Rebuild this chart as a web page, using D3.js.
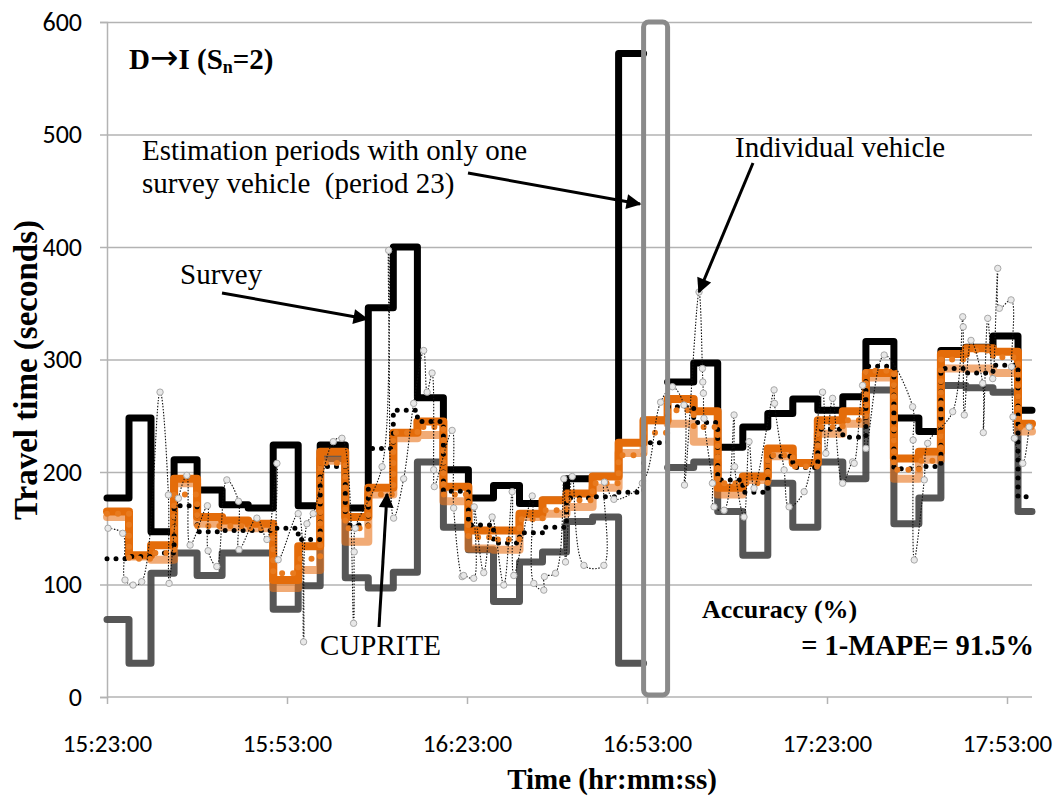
<!DOCTYPE html>
<html><head><meta charset="utf-8">
<script src="https://cdn.jsdelivr.net/npm/d3@7"></script>
<style>body{margin:0;background:#fff}svg{display:block}</style>
</head><body>
<svg id="chart" width="1059" height="800"></svg>
<script>
// ---------------- DATA ----------------
const axisStart = "15:23:00";
const axisEnd = "17:57:10";
const xTickLabels = ["15:23:00","15:53:00","16:23:00","16:53:00","17:23:00","17:53:00"];
const yTickValues = [0,100,200,300,400,500,600];

// estimation period start times (38 periods), last one ends at axisEnd
const periodStarts = ["15:23:00","15:26:40","15:30:20","15:34:11","15:38:01","15:42:11","15:46:32","15:50:42",
  "15:54:52","15:58:32","16:02:43","16:06:33","16:10:43","16:14:44","16:19:04","16:23:14","16:27:25","16:31:45",
  "16:35:35","16:39:35","16:43:56","16:48:16","16:52:26","16:56:26","17:00:47","17:04:47","17:08:58","17:13:08",
  "17:17:18","17:21:28","17:25:38","17:29:29","17:34:09","17:38:19","17:41:59","17:46:10","17:50:40","17:54:50"];

// survey max (black)
const surveyMax = [177,248,147,211,184,171,168,224,170,224,168,346,400,266,202,177,188,172,175,194,196,572,null,
  280,297,222,240,252,265,255,267,316,248,236,308,311,321,255];
// survey min (dark grey)
const surveyMin = [69,30,110,128,108,128,128,78,99,212,106,97,111,209,151,131,85,120,129,156,160,30,null,
  204,209,165,126,190,151,209,194,273,154,177,277,275,271,165];
// survey mean (black round dots)
const surveyMean = [123,125,128,170,147,148,148,150,140,205,153,221,255,245,183,153,137,146,151,177,178,182,226,
  258,244,193,182,214,204,238,231,294,203,205,292,288,295,178];
// CUPRITE estimate (orange)
const cuprite = [165,126,135,194,160,157,154,104,134,218,160,186,235,245,187,148,148,163,175,181,196,226,246,
  265,254,186,196,221,208,246,254,288,212,218,305,310,307,243];
// CUPRITE alternative estimate (light orange)
const cupriteAlt = [160,125,122,190,154,151,150,97,113,210,138,180,230,233,174,132,131,160,163,169,186,217,246,
  243,227,180,193,214,208,234,243,284,194,211,292,292,288,236];
// CUPRITE mean of vehicles (orange round dots)
const cupriteDots = [163,123,128,180,152,152,150,110,123,208,150,180,235,240,180,142,140,158,166,175,190,215,235,
  255,240,190,190,215,205,240,246,290,202,210,300,308,302,240];

// individual vehicles: minutes after axisStart, travel time (s)
const vehicleMin = [0.17,2.62,3.00,4.34,5.79,8.84,10.23,10.35,11.90,13.30,13.85,16.74,16.85,18.30,19.97,21.91,22.0,
  24.98,26.65,28.32,28.53,31.87,32.76,33.32,34.37,37.71,39.16,41.10,41.2,41.38,45.84,46.94,47.77,49.44,51.11,52.78,
  53.35,54.18,54.45,54.55,57.52,57.78,59.19,59.45,61.12,61.2,62.79,64.19,66.13,67.53,67.80,70.87,71.13,72.80,72.9,
  74.75,76.14,76.42,77.54,79.48,82.81,82.9,84.48,89.22,92.27,94.23,96.16,96.25,98.67,99.23,99.3,99.4,99.50,100.90,
  101.17,102.84,104.51,104.6,106.17,107.01,107.84,111.18,111.25,112.85,113.68,116.19,119.26,119.81,120.93,122.59,
  124.26,124.53,125.93,126.48,129.53,134.27,134.35,134.54,136.21,136.78,140.95,142.62,142.7,142.88,144.00,145.95,
  146.05,146.79,147.62,148.46,148.73,150.68,150.75,151.0,151.23,152.63,153.68];
const vehicleTT = [150,145.5,104,99.5,102.5,271,179.6,101,176.6,197,135,170,130,116,193,174,131,159,140,207.7,122,
  163,49,154,163,227,230,65.5,129,150,204.7,397,159,194,261,308,271,288,202,187,237,168,107,108,105.5,169,110.5,160,
  99.5,182.5,108,178.7,101,95,107,110,194,120,196,117,117,191,175.7,190,262,275.8,259.5,188.4,360,292,280,270,247.7,
  190,169,166,250.7,204.7,160,227,185.5,273,261,201.8,169,182.5,271,216.6,265.5,190,209,207.7,277,221,304,258,228.4,
  121.8,193,225.5,253.6,338,329,250.7,317,278.8,235,336.6,283,381,345.5,353,293.6,249,230,207.7,240];

const highlightPeriod = 23;

// ---------------- CHART ----------------
const svg = d3.select("#chart");
const parse = d3.timeParse("%H:%M:%S");
const t0 = parse(axisStart), t1 = parse(axisEnd);
const M = {left:107, right:1032, top:22, bottom:697};
const x = d3.scaleTime().domain([t0,t1]).range([M.left,M.right]);
const y = d3.scaleLinear().domain([0,600]).range([M.bottom,M.top]);

const pStart = periodStarts.map(parse);
const pEnd = pStart.slice(1).concat([t1]);

const serif = "'Liberation Serif','Times New Roman',serif";
const sans = "Carlito,'Liberation Sans',Arial,sans-serif";

// gridlines
svg.append("g").attr("transform",`translate(${M.left},0)`)
  .call(d3.axisLeft(y).tickValues(yTickValues.filter(v=>v>0)).tickSize(-(M.right-M.left)).tickFormat(""))
  .call(g=>g.select(".domain").remove())
  .call(g=>g.selectAll("line").attr("stroke","#b3b3b3").attr("stroke-width",1.5));

// y axis
svg.append("g").attr("transform",`translate(${M.left},0)`)
  .call(d3.axisLeft(y).tickValues(yTickValues).tickSize(7).tickPadding(18))
  .call(g=>g.select(".domain").attr("stroke","#b3b3b3").attr("stroke-width",1.5))
  .call(g=>g.selectAll("line").attr("stroke","#b3b3b3").attr("stroke-width",1.5))
  .call(g=>g.selectAll("text").attr("font-family",sans).attr("font-size",26).attr("fill","#000"));

// x axis
svg.append("g").attr("transform",`translate(0,${M.bottom})`)
  .call(d3.axisBottom(x).tickValues(xTickLabels.map(parse)).tickFormat(d3.timeFormat("%H:%M:%S")).tickSize(7).tickPadding(30))
  .call(g=>g.select(".domain").attr("stroke","#b3b3b3").attr("stroke-width",1.5).attr("d",`M${M.left},0H${M.right}`))
  .call(g=>g.selectAll("line").attr("stroke","#b3b3b3").attr("stroke-width",1.5))
  .call(g=>g.selectAll("text").attr("font-family",sans).attr("font-size",25).attr("fill","#000"));

// step series helper
function stepPts(vals){
  const pts=[];
  vals.forEach((v,i)=>{
    if(v==null){pts.push(null);return;}
    pts.push({t:pStart[i],v:v},{t:pEnd[i],v:v});
  });
  return pts;
}
const stepLine = d3.line().defined(d=>d!=null).x(d=>x(d.t)).y(d=>y(d.v));

const plot = svg.append("g");
function drawStep(vals, style){
  const p = plot.append("path").attr("d",stepLine(stepPts(vals))).attr("fill","none")
    .attr("stroke-linejoin","round").attr("stroke-linecap","round");
  Object.entries(style).forEach(([k,v])=>p.attr(k,v));
}
drawStep(surveyMin,{stroke:"#4d4d4d","stroke-width":7,"stroke-opacity":0.95});
drawStep(surveyMax,{stroke:"#000","stroke-width":7});
drawStep(cupriteAlt,{stroke:"#e8731a","stroke-width":8,"stroke-opacity":0.6});
drawStep(cuprite,{stroke:"#e46c0a","stroke-width":8});
drawStep(surveyMean,{stroke:"#000","stroke-width":5,"stroke-dasharray":"0 9","stroke-linecap":"round","stroke-linejoin":"miter"});
drawStep(cupriteDots,{stroke:"#e87a1e","stroke-width":6,"stroke-dasharray":"0 11","stroke-linecap":"round","stroke-linejoin":"miter"});

// individual vehicles
const vehicles = vehicleMin.map((m,i)=>({t:new Date(t0.getTime()+m*60000), v:vehicleTT[i]}));
plot.append("path")
  .attr("d", d3.line().x(d=>x(d.t)).y(d=>y(d.v)).curve(d3.curveCatmullRom.alpha(0.5))(vehicles))
  .attr("fill","none").attr("stroke","#111").attr("stroke-width",1.1).attr("stroke-dasharray","1.5 1.5");
plot.selectAll("circle.veh").data(vehicles).join("circle").attr("class","veh")
  .attr("cx",d=>x(d.t)).attr("cy",d=>y(d.v)).attr("r",3.2)
  .attr("fill","#e8e8e8").attr("stroke","#a8a8a8").attr("stroke-width",1);

// highlighted period rectangle
const hp = highlightPeriod-1;
plot.append("rect")
  .attr("x",x(pStart[hp])).attr("width",x(pEnd[hp])-x(pStart[hp]))
  .attr("y",y(600)).attr("height",y(0)-y(600)-2)
  .attr("rx",5).attr("fill","none").attr("stroke","#8a8a8a").attr("stroke-width",5);

// ---------------- ANNOTATIONS ----------------
const defs = svg.append("defs");
defs.append("marker").attr("id","ah").attr("viewBox","0 0 10 10").attr("refX",9).attr("refY",5)
  .attr("markerWidth",6).attr("markerHeight",5).attr("orient","auto").attr("markerUnits","strokeWidth")
  .append("path").attr("d","M0,0L10,5L0,10Z").attr("fill","#000");
function arrow(x1,y1,x2,y2){
  svg.append("line").attr("x1",x1).attr("y1",y1).attr("x2",x2).attr("y2",y2)
    .attr("stroke","#000").attr("stroke-width",3).attr("marker-end","url(#ah)");
}
function txt(str,xx,yy,opt={}){
  return svg.append("text").attr("x",xx).attr("y",yy).attr("font-family",serif)
    .attr("font-size",opt.size||29).attr("font-weight",opt.bold?"bold":"normal")
    .attr("text-anchor",opt.anchor||"start").attr("fill","#000").text(str);
}
// title
const ttl = svg.append("text").attr("x",129).attr("y",69).attr("font-family",serif).attr("font-size",29).attr("font-weight","bold");
ttl.append("tspan").text("D");
ttl.append("tspan").attr("font-family","'DejaVu Sans',sans-serif").attr("font-weight","normal").attr("font-size",34).text("→");
ttl.append("tspan").text("I (S");
ttl.append("tspan").attr("font-size",18).attr("dy",4).text("n");
ttl.append("tspan").attr("dy",-4).text("=2)");

txt("Estimation periods with only one",142,160);
txt("survey vehicle\u00a0 (period 23)",142,193);
txt("Individual vehicle",735,157);
txt("Survey",180,284);
txt("CUPRITE",320,655);
txt("Accuracy (%)",702,618,{bold:true,size:26});
txt("= 1-MAPE= 91.5%",1034,655,{bold:true,size:28.5,anchor:"end"});

arrow(468,173,640,204);
arrow(753,163,699,292);
arrow(222,293,367,319);
arrow(379,627,387,494);

// axis titles
svg.append("text").attr("transform","translate(37,370) rotate(-90)").attr("text-anchor","middle")
  .attr("font-family",serif).attr("font-size",33).attr("font-weight","bold").text("Travel time (seconds)");
svg.append("text").attr("x",612).attr("y",789).attr("text-anchor","middle")
  .attr("font-family",serif).attr("font-size",29).attr("font-weight","bold").text("Time (hr:mm:ss)");
</script>
</body></html>
